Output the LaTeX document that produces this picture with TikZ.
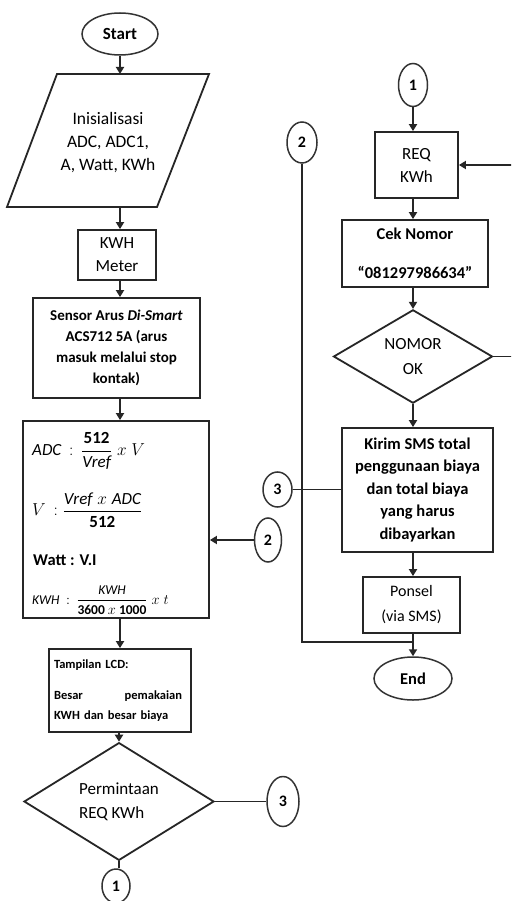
\documentclass[tikz,border=0pt]{standalone}
\usepackage{amsmath}
\usepackage{fontspec}
\setmainfont{Carlito}
\usetikzlibrary{shapes.geometric,arrows.meta,calc}
\newcommand\fsz[2]{\fontsize{#1}{#2}\selectfont}
\begin{document}
\begin{tikzpicture}[x=1pt,y=-1pt,
  line/.style={draw=black!85, line width=1.8pt},
  arr/.style={line, -{Triangle[length=7pt,width=8pt]}},
  box/.style={rectangle, draw=black!85, line width=1.8pt, inner sep=2pt, align=center},
  oval/.style={ellipse, draw=black!80, line width=1.5pt, inner sep=0pt, font=\fsz{16}{18}\bfseries},
  dia/.style={diamond, draw=black!85, line width=1.8pt, inner sep=0pt},
]
\fill[white] (0,0) rectangle (511,901);
\useasboundingbox (0,0) rectangle (511,901);
\clip (0,0) rectangle (511,901);

\coordinate (colL) at (120,0);
\coordinate (colR) at (413,0);
\coordinate (loopR) at (525,0);
\coordinate (join) at (413,642);

% ---------------- left column ----------------
\node[oval, minimum width=76, minimum height=42, font=\fsz{17}{20}\bfseries] (start) at (120,34) {Start};

\draw[line] (57,74) -- (209,74) -- (157,207) -- (7,207) -- cycle;
\node[align=center, font=\fsz{17.5}{23}] (init) at (108,143) {Inisialisasi\\ADC, ADC1,\\A, Watt, KWh};
\coordinate (initT) at (120,74);
\coordinate (initB) at (120,207);

\node[box, minimum width=78, minimum height=50, font=\fsz{17}{23}] (kwh) at (117,255) {KWH\\Meter};

\node[box, minimum width=167, minimum height=100, font=\fsz{15}{21}\bfseries] (sensor) at (116.5,348)
  {Sensor Arus \textit{Di-Smart}\\ACS712 5A (arus\\masuk melalui stop\\kontak)};

\node[box, minimum width=186, minimum height=197] (form) at (116,519.5) {};
\node[anchor=west, inner sep=0pt, font=\fsz{17}{20}] (f1) at (32,451)
  {$\mathit{ADC}\,:\,\dfrac{\textbf{512}}{\mathit{Vref}}\;x\;V$};
\node[anchor=west, inner sep=0pt, font=\fsz{17}{20}] (f2) at (32,510)
  {$V\,:\dfrac{\mathit{Vref}\;x\;\mathit{ADC}}{\textbf{512}}$};
\node[anchor=west, inner sep=0pt, font=\fsz{16.5}{20}\bfseries] (f3) at (33,560) {Watt : V.I};
\node[anchor=west, inner sep=0pt, font=\fsz{13.5}{16}] (f4) at (32,600)
  {$\mathit{KWH}\,:\,\dfrac{\mathit{KWH}}{\textbf{3600}\ x\ \textbf{1000}}\;x\;t$};

\node[box, minimum width=142, minimum height=83, text width=124, align=left, font=\fsz{12.5}{20}\bfseries] (lcd) at (120,690.5)
  {\hspace*{-4pt}Tampilan LCD:\\[11pt]\hspace*{-4pt}Besar\hfill pemakaian\\\hspace*{-4pt}KWH dan besar biaya};

\node[dia, minimum width=190, minimum height=93, align=left, font=\fsz{17}{24}] (perm) at (119,801.5) {Permintaan\\REQ KWh};

\node[oval, minimum width=28, minimum height=34] (c1b) at (116,886) {1};
\node[oval, minimum width=32, minimum height=50] (c3a) at (283,801.5) {3};
\node[oval, minimum width=27, minimum height=44] (c2a) at (268,540) {2};

% ---------------- right column ----------------
\node[oval, minimum width=29, minimum height=43] (c1t) at (413,85) {1};
\node[box, minimum width=83, minimum height=66, font=\fsz{17}{23}] (req) at (416.5,165) {REQ\\KWh};
\node[box, minimum width=146, minimum height=67, font=\fsz{16.5}{23}\bfseries] (cek) at (415,253.5)
  {Cek Nomor\\[16pt]“081297986634”};
\node[dia, minimum width=159, minimum height=93, align=center, font=\fsz{17}{25}] (nomor) at (413,356.5) {NOMOR\\OK};
\node[box, minimum width=151, minimum height=124, font=\fsz{16.5}{22.5}\bfseries] (kirim) at (417.5,490)
  {Kirim SMS total\\penggunaan biaya\\dan total biaya\\yang harus\\dibayarkan};
\node[box, minimum width=97, minimum height=56, font=\fsz{16}{25}] (ponsel) at (411.5,605) {Ponsel\\(via SMS)};
\node[oval, minimum width=78, minimum height=43, font=\fsz{16.5}{18}\bfseries] (end) at (413,678.5) {End};

\node[oval, minimum width=30, minimum height=41] (c2r) at (302,142.5) {2};
\node[oval, minimum width=29, minimum height=35] (c3r) at (277.5,489.5) {3};

% ---------------- connectors ----------------
\draw[arr] (start.south) -- (initT);
\draw[arr] (initB) -- (kwh.north -| colL);
\draw[arr] (kwh.south -| colL) -- (sensor.north -| colL);
\draw[arr] (sensor.south -| colL) -- (form.north -| colL);
\draw[arr] (form.south -| colL) -- (lcd.north -| colL);
\draw[arr] (lcd.south -| perm.north) -- (perm.north);
\draw[line] (perm.south) -- (perm.south |- c1b.north);
\draw[line] (perm.east) -- (c3a.west);
\draw[arr] (c2a.west) -- (form.east |- c2a.west);

\draw[arr] (c1t.south) -- (req.north -| c1t.south);
\draw[arr] (req.south -| colR) -- (cek.north -| colR);
\draw[arr] (cek.south -| colR) -- (nomor.north);
\draw[arr] (nomor.south) -- (kirim.north -| nomor.south);
\draw[arr] (kirim.south -| colR) -- (ponsel.north -| colR);
\draw[arr] (ponsel.south -| colR) -- (end.north);
\draw[arr] (nomor.east) -- (nomor.east -| loopR) -- (loopR |- req.east) -- (req.east);
\draw[line] (c2r.south) -- (c2r.south |- join) -- (join);
\draw[line] (c3r.east) -- (kirim.west |- c3r.east);
\end{tikzpicture}
\end{document}
